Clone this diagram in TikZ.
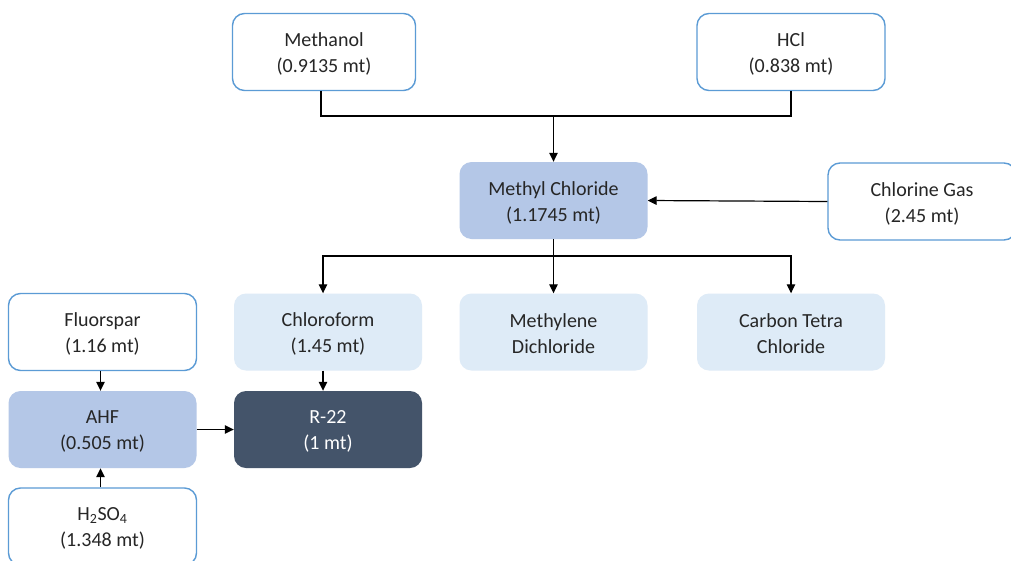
\documentclass[tikz,border=0pt]{standalone}
\usepackage{fontspec}
\setmainfont{Carlito}
\usetikzlibrary{arrows.meta}
\definecolor{txt}{HTML}{262626}
\definecolor{edge}{HTML}{5B9BD5}
\definecolor{midblue}{HTML}{B4C7E7}
\definecolor{paleblue}{HTML}{DEEBF7}
\definecolor{slate}{HTML}{44546A}
\begin{document}
\begin{tikzpicture}[x=1pt,y=-1pt,
  box/.style={rounded corners=12pt, minimum width=188pt, minimum height=77pt,
    inner sep=0pt, label={[align=center, inner sep=0pt, text=txt, yshift=-2pt,
      font=\fontsize{20}{26}\selectfont]center:#1}},
  rawbox/.style={box={#1}, draw=edge, line width=1.4pt, fill=white},
  midbox/.style={box={#1}, fill=midblue},
  palebox/.style={box={#1}, fill=paleblue},
  darkbox/.style={rounded corners=12pt, minimum width=188pt, minimum height=77pt,
    inner sep=0pt, fill=slate, label={[align=center, inner sep=0pt, text=white,
      yshift=-2pt, font=\fontsize{20}{26}\selectfont]center:#1}},
  link/.style={draw=black, line width=1.2pt},
  flow/.style={link, -{Triangle[length=9pt,width=8.5pt]}}]
\clip (0,0) rectangle (1011,560);
\fill[white] (0,0) rectangle (1011,560);

% raw materials
\node[rawbox={Methanol\\(0.9135 mt)}, minimum width=183pt] (meth) at (324,52) {};
\node[rawbox={HCl\\(0.838 mt)}] (hcl) at (791,52) {};
\node[rawbox={Chlorine Gas\\(2.45 mt)}] (clg) at (922,201.5) {};
\node[rawbox={Fluorspar\\(1.16 mt)}] (flu) at (102.5,332) {};
\node[rawbox={H\textsubscript{2}SO\textsubscript{4}\\(1.348 mt)}] (hso) at (102.5,526.5) {};

% intermediates and products
\node[midbox={Methyl Chloride\\(1.1745 mt)}] (mcl) at (553.5,200.5) {};
\node[palebox={Chloroform\\(1.45 mt)}] (chl) at (328,332) {};
\node[palebox={Methylene\\Dichloride}] (mdc) at (553.5,332) {};
\node[palebox={Carbon Tetra\\Chloride}] (ctc) at (791,332) {};
\node[midbox={AHF\\(0.505 mt)}] (ahf) at (102.5,429.5) {};
\node[darkbox={R-22\\(1 mt)}] (r22) at (328,429.5) {};

% junction points
\coordinate (jtop) at (553.5,116);
\coordinate (jbot) at (553.5,256);

% methyl chloride feed
\draw[link] ([xshift=-3pt]meth.south) |- (jtop) -| (hcl.south);
\draw[flow] (jtop) -- (mcl.north);
\draw[flow] (clg.west) -- (mcl.east);

% chloromethane split
\draw[link] (mcl.south) -- (jbot);
\draw[flow] (jbot) -| ([xshift=-5pt]chl.north);
\draw[flow] (jbot) -- (mdc.north);
\draw[flow] (jbot) -| (ctc.north);

% R-22 route
\draw[flow] ([xshift=-2pt]flu.south) -- ([xshift=-2pt]ahf.north);
\draw[flow] ([xshift=-2pt]hso.north) -- ([xshift=-2pt]ahf.south);
\draw[flow] ([xshift=-5pt]chl.south) -- ([xshift=-5pt]r22.north);
\draw[flow] (ahf.east) -- (r22.west);
\end{tikzpicture}
\end{document}
